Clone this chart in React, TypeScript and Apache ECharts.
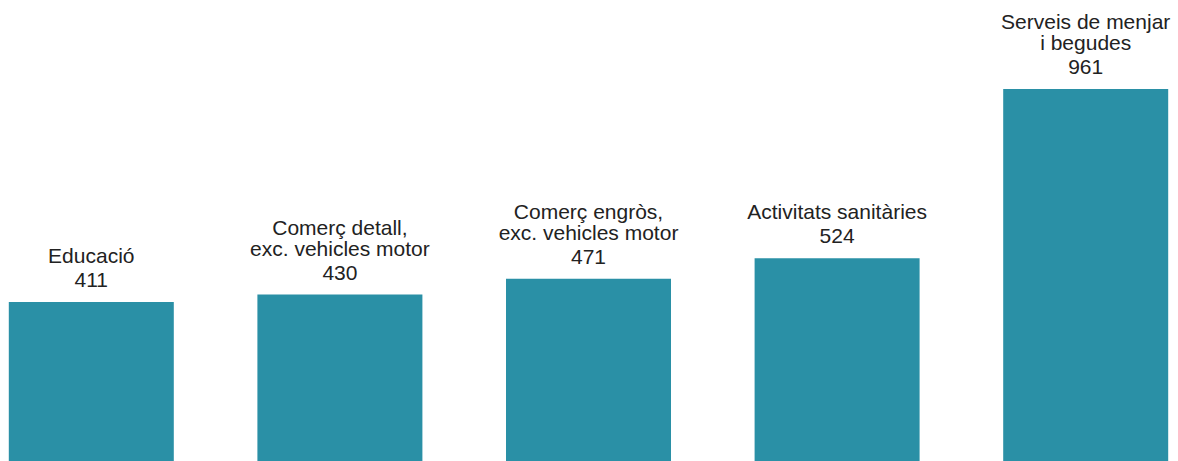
import React, { useEffect, useRef } from "react";
import * as echarts from "echarts";

const categories: string[] = [
  "Educació",
  "Comerç detall,\nexc. vehicles motor",
  "Comerç engròs,\nexc. vehicles motor",
  "Activitats sanitàries",
  "Serveis de menjar\ni begudes",
];
const values: number[] = [411, 430, 471, 524, 961];

const BAR_COLOR = "#2a90a6";
const TEXT_COLOR = "#222222";
const FONT = "'Liberation Sans', Arial, Helvetica, sans-serif";

export default function App() {
  const ref = useRef<HTMLDivElement>(null);
  useEffect(() => {
    if (!ref.current) return;
    const chart = echarts.init(ref.current, undefined, { renderer: "svg" });
    chart.setOption({
      animation: false,
      grid: { left: 0, right: 0, top: 89, bottom: 0, containLabel: false },
      xAxis: {
        type: "category",
        data: categories,
        axisLine: { show: false },
        axisTick: { show: false },
        axisLabel: { show: false },
      },
      yAxis: {
        type: "value",
        min: 0,
        max: 961,
        show: false,
        splitLine: { show: false },
      },
      series: [
        {
          type: "bar",
          data: values,
          barWidth: 165,
          itemStyle: { color: BAR_COLOR },
          label: {
            show: true,
            position: "top",
            distance: 9,
            align: "center",
            formatter: (p: any) => {
              const lines = String(p.name).split("\n").map((l: string) => `{n|${l}}`);
              return lines.join("\n") + `\n{v|${p.value}}`;
            },
            rich: {
              n: { fontSize: 21, lineHeight: 21, color: TEXT_COLOR, fontFamily: FONT, align: "center" },
              v: { fontSize: 21, lineHeight: 27, color: TEXT_COLOR, fontFamily: FONT, align: "center" },
            },
          },
        },
      ],
    });
    return () => chart.dispose();
  }, []);
  return (
    <div
      style={{
        position: "absolute",
        left: 0,
        top: 0,
        width: 1178,
        height: 461,
        overflow: "hidden",
        background: "#ffffff",
      }}
    >
      <div
        ref={ref}
        style={{ position: "absolute", left: -33, top: 0, width: 1242.5, height: 461 }}
      />
    </div>
  );
}
